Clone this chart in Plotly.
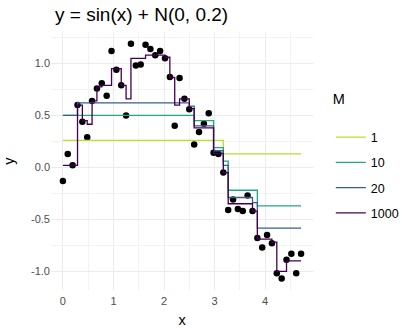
import plotly.graph_objects as go

# ---- data ----
x_vals = [0.000, 0.096, 0.192, 0.289, 0.385, 0.481, 0.577, 0.673, 0.769, 0.866,
          0.962, 1.058, 1.154, 1.250, 1.346, 1.443, 1.539, 1.635, 1.731, 1.827,
          1.923, 2.020, 2.116, 2.212, 2.308, 2.404, 2.500, 2.597, 2.693, 2.789,
          2.885, 2.981, 3.077, 3.174, 3.270, 3.366, 3.462, 3.558, 3.654, 3.751,
          3.847, 3.943, 4.039, 4.135, 4.232, 4.328, 4.424, 4.520, 4.616, 4.712]

y_obs = [-0.13, 0.13, 0.02, 0.60, 0.44, 0.29, 0.64, 0.76, 0.81, 0.69,
         1.12, 0.94, 0.79, 0.50, 1.19, 0.98, 0.99, 1.18, 1.14, 1.08,
         1.12, 1.05, 0.87, 0.40, 0.86, 0.66, 0.56, 0.22, 0.34, 0.42,
         0.52, 0.14, 0.13, -0.05, -0.41, -0.31, -0.40, -0.42, -0.27, -0.42,
         -0.68, -0.77, -0.65, -0.73, -1.02, -1.07, -0.89, -0.83, -1.02, -0.83]

fit_m1 = [0.26, 0.26, 0.26, 0.26, 0.26, 0.26, 0.26, 0.26, 0.26, 0.26,
          0.26, 0.26, 0.26, 0.26, 0.26, 0.26, 0.26, 0.26, 0.26, 0.26,
          0.26, 0.26, 0.26, 0.26, 0.26, 0.26, 0.26, 0.26, 0.26, 0.26,
          0.26, 0.26, 0.26, 0.13, 0.13, 0.13, 0.13, 0.13, 0.13, 0.13,
          0.13, 0.13, 0.13, 0.13, 0.13, 0.13, 0.13, 0.13, 0.13, 0.13]

fit_m10 = [0.50, 0.50, 0.50, 0.50, 0.50, 0.50, 0.50, 0.50, 0.50, 0.50,
           0.50, 0.50, 0.50, 0.50, 0.50, 0.50, 0.50, 0.50, 0.50, 0.50,
           0.50, 0.50, 0.50, 0.50, 0.50, 0.50, 0.50, 0.45, 0.45, 0.45,
           0.45, 0.19, 0.19, 0.06, -0.22, -0.22, -0.22, -0.22, -0.22, -0.22,
           -0.37, -0.37, -0.37, -0.37, -0.37, -0.37, -0.37, -0.37, -0.37, -0.37]

fit_m20 = [0.50, 0.50, 0.50, 0.62, 0.62, 0.62, 0.62, 0.62, 0.62, 0.62,
           0.62, 0.62, 0.62, 0.62, 0.62, 0.62, 0.62, 0.62, 0.62, 0.62,
           0.62, 0.62, 0.62, 0.62, 0.62, 0.62, 0.59, 0.40, 0.40, 0.40,
           0.40, 0.16, 0.16, 0.02, -0.29, -0.29, -0.29, -0.29, -0.29, -0.34,
           -0.585, -0.585, -0.585, -0.585, -0.585, -0.585, -0.585, -0.585, -0.585, -0.585]

fit_m1000 = [0.02, 0.02, 0.02, 0.60, 0.45, 0.415, 0.64, 0.775, 0.79, 0.79,
             0.95, 0.95, 0.79, 0.66, 1.05, 1.05, 1.05, 1.08, 1.08, 1.08,
             1.08, 1.06, 0.865, 0.60, 0.66, 0.66, 0.565, 0.38, 0.38, 0.38,
             0.38, 0.135, 0.135, -0.05, -0.35, -0.35, -0.35, -0.35, -0.35, -0.42,
             -0.69, -0.69, -0.69, -0.72, -1.00, -1.00, -0.90, -0.90, -0.90, -0.90]

series_names = ["1", "10", "20", "1000"]
series_fits = [fit_m1, fit_m10, fit_m20, fit_m1000]
series_colors = ["#BBDF27", "#22A884", "#35608D", "#440154"]

x_ticks = [0, 1, 2, 3, 4]
x_tick_text = ["0", "1", "2", "3", "4"]
x_minor = [0.5, 1.5, 2.5, 3.5, 4.5]
y_ticks = [-1.0, -0.5, 0.0, 0.5, 1.0]
y_tick_text = ["-1.0", "-0.5", "0.0", "0.5", "1.0"]
y_minor = [-0.75, -0.25, 0.25, 0.75, 1.25]

FONT = "Liberation Sans, Arial, Helvetica, sans-serif"

fig = go.Figure()
fig.add_trace(go.Scatter(x=x_vals, y=y_obs, mode="markers",
                         marker=dict(color="black", size=6.5, line=dict(width=0)),
                         showlegend=False, hoverinfo="skip"))
for name, fit, col in zip(series_names, series_fits, series_colors):
    fig.add_trace(go.Scatter(x=x_vals, y=fit, mode="lines", name=name,
                             legendgroup=name,
                             line=dict(shape="hv", color=col, width=1.3)))

fig.update_layout(
    width=402, height=328,
    margin=dict(l=51, r=89, t=32, b=38, autoexpand=False),
    paper_bgcolor="white", plot_bgcolor="white",
    font=dict(family=FONT, color="black"),
    title=dict(text="y = sin(x) + N(0, 0.2)", font=dict(size=19, color="black", family=FONT),
               x=55 / 402, xanchor="left", xref="container",
               y=1 - 14 / 328, yanchor="middle", yref="container"),
    legend=dict(x=1.068, xanchor="left", y=0.795, yanchor="top",
                title=dict(text="M<br> ", font=dict(size=14.5, color="black")),
                font=dict(size=12.5, color="black"),
                tracegroupgap=6, bgcolor="rgba(0,0,0,0)"),
    showlegend=True,
)
fig.update_xaxes(range=[-0.2356, 4.948], tickvals=x_ticks, ticktext=x_tick_text,
                 showgrid=True, gridcolor="#EBEBEB", gridwidth=1, zeroline=False,
                 showline=False, ticks="", automargin=False, ticklabelstandoff=3,
                 minor=dict(tickvals=x_minor, showgrid=True, gridcolor="#F3F3F3", gridwidth=0.6),
                 tickfont=dict(size=11, color="#4D4D4D"),
                 title=dict(text="x", font=dict(size=14.5, color="black"), standoff=9))
fig.update_yaxes(range=[-1.18, 1.303], tickvals=y_ticks, ticktext=y_tick_text,
                 showgrid=True, gridcolor="#EBEBEB", gridwidth=1, zeroline=False,
                 showline=False, ticks="", automargin=False,
                 minor=dict(tickvals=y_minor, showgrid=True, gridcolor="#F3F3F3", gridwidth=0.6),
                 tickfont=dict(size=11, color="#4D4D4D"),
                 title=dict(text="y", font=dict(size=14.5, color="black"), standoff=12))

fig.write_html("out.html", config={"displayModeBar": False},
               post_script="document.body.style.margin='0px';")
